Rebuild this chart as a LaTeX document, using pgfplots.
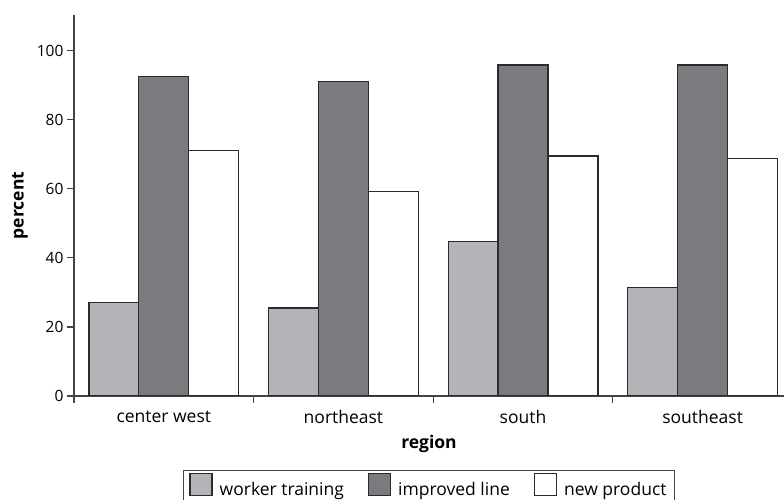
\documentclass[border=0pt]{standalone}
\usepackage{pgfplots}
\pgfplotsset{compat=1.18}
\usepackage{fontspec}
\setmainfont{Open Sans}

\definecolor{wtfill}{HTML}{B3B4B8}
\definecolor{ilfill}{HTML}{7A7B7F}
\definecolor{edge}{HTML}{2B2B2B}
\definecolor{axgray}{HTML}{444444}

\begin{document}
\begin{tikzpicture}
    \begin{axis}[
            name=ax,
            at={(0,0)}, anchor=south west,
            scale only axis,
            width=710pt, height=381pt,
            ybar=0pt,
            bar width=0.278,
            xmin=-0.5, xmax=3.453,
            ymin=0, ymax=110.3,
            axis lines=left,
            axis line style={-, draw=axgray, line width=1.3pt},
            tick style={draw=axgray, line width=1.3pt},
            tick align=outside,
            major tick length=7pt,
            ytick={0,20,...,100},
            xtick={-0.5,0.5,1.5,2.5},
            xticklabels={},
            extra x ticks={0,1,2,3},
            extra x tick labels={center west,northeast,south,southeast},
            extra x tick style={tick style={draw=none}},
            xticklabel style={font=\fontsize{17.5}{20}\selectfont, yshift=-4pt},
            yticklabel style={font=\fontsize{15.5}{18}\selectfont},
            /pgf/number format/assume math mode=true,
            xlabel={\textbf{region}},
            ylabel={\textbf{percent}},
            label style={font=\fontsize{17.5}{20}\selectfont},
            xlabel style={at={(axis description cs:0.5,-0.126)}, anchor=center},
            ylabel style={at={(axis description cs:-0.076,0.5)}, anchor=center},
            legend columns=3,
            legend style={
                    at={(0.5,-0.193)},
                    anchor=north,
                    draw=axgray, line width=1.2pt,
                    font=\fontsize{17.5}{20}\selectfont,
                    inner xsep=6pt, inner ysep=3pt,
                    /tikz/every even column/.append style={column sep=22pt}
                },
            legend image code/.code={
                    \draw[#1] (0pt,-6pt) rectangle (22pt,16pt);
                    \path (27pt,0pt);
                },
        ]
        \addplot[fill=wtfill, draw=edge, line width=1.2pt]
            coordinates {(0,27.0) (1,25.5) (2,44.8) (3,31.4)};
        \addlegendentry{worker training}
        \addplot[fill=ilfill, draw=edge, line width=1.2pt]
            coordinates {(0,92.5) (1,91.0) (2,95.8) (3,95.8)};
        \addlegendentry{improved line}
        \addplot[fill=white, draw=edge, line width=1.2pt]
            coordinates {(0,71.1) (1,59.1) (2,69.5) (3,68.8)};
        \addlegendentry{new product}
    \end{axis}
    \pgfresetboundingbox
    \path[use as bounding box] (-74pt,-104pt) rectangle (710pt,396pt);
\end{tikzpicture}
\end{document}
